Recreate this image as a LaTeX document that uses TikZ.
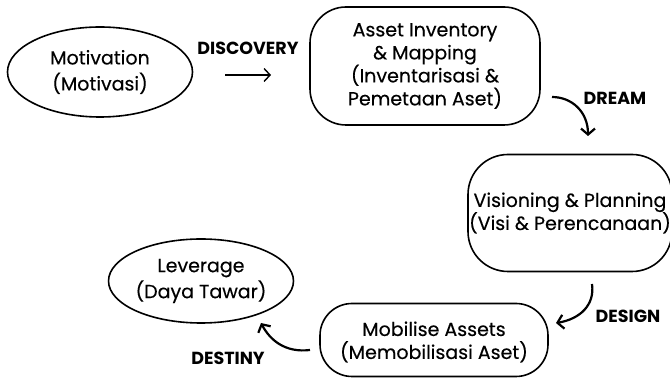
\documentclass[tikz,border=0pt]{standalone}
\usepackage{fontspec}
\setmainfont{Poppins}
\newfontfamily\boxfont[FakeBold=0.35]{Poppins}
\usetikzlibrary{shapes.geometric,arrows.meta}
\tikzset{
  x=1pt,y=-1pt,
  boxtext/.style={font=\boxfont\fontsize{19}{23}\selectfont,align=center,inner sep=0pt},
  ovalnode/.style={draw,ellipse,line width=1.6pt,boxtext,font=\boxfont\fontsize{19}{26}\selectfont},
  roundbox/.style={draw,rectangle,line width=1.6pt,boxtext},
  steplabel/.style={font=\bfseries\fontsize{17.5}{20}\selectfont,inner sep=0pt},
  flow/.style={line width=2.2pt,-{Straight Barb[length=6pt,width=14pt,line width=2.2pt]}},
  flowthin/.style={line width=1.4pt,-{Straight Barb[length=6pt,width=13pt,line width=1.4pt]}},
}
\begin{document}
\begin{tikzpicture}
\useasboundingbox (0,0) rectangle (670,379);
\node[ovalnode,minimum width=185pt,minimum height=90pt] (mot) at (100,72) {Motivation\\(Motivasi)};
\node[roundbox,minimum width=230pt,minimum height=118pt,rounded corners=36pt] (asset) at (425,66) {Asset Inventory\\\& Mapping\\(Inventarisasi \&\\Pemetaan Aset)};
\node[roundbox,minimum width=204pt,minimum height=117pt,rounded corners=40pt] (vis) at (570,213) {Visioning \& Planning\\(Visi \& Perencanaan)};
\node[roundbox,minimum width=228pt,minimum height=73pt,rounded corners=32pt] (mob) at (434,340) {};
\node[boxtext] (mobtext) at (434,342) {Mobilise Assets\\(Memobilisasi Aset)};
\node[ovalnode,minimum width=168pt,minimum height=84pt] (lev) at (201,281) {Leverage\\(Daya Tawar)};

\node[steplabel] (ldisc) at (248,48) {DISCOVERY};
\node[steplabel] (ldream) at (615,98) {DREAM};
\node[steplabel] (ldesign) at (628,316) {DESIGN};
\node[steplabel] (ldest) at (228,358) {DESTINY};

\coordinate (discS) at (225,75);
\coordinate (discE) at (271,75);
\coordinate (dreamS) at (552,97);
\coordinate (dreamE) at (588,136);
\coordinate (desS) at (592,284);
\coordinate (desE) at (556,323);
\coordinate (destS) at (310,350);
\coordinate (destE) at (261,323);

\draw[flowthin] (discS) -- (discE);
\draw[flow] (dreamS) .. controls (572,97) and (588,112) .. (dreamE);
\draw[flow] (desS) .. controls (595,305) and (580,319) .. (desE);
\draw[flow] (destS) .. controls (285,353) and (270,340) .. (destE);
\end{tikzpicture}
\end{document}
